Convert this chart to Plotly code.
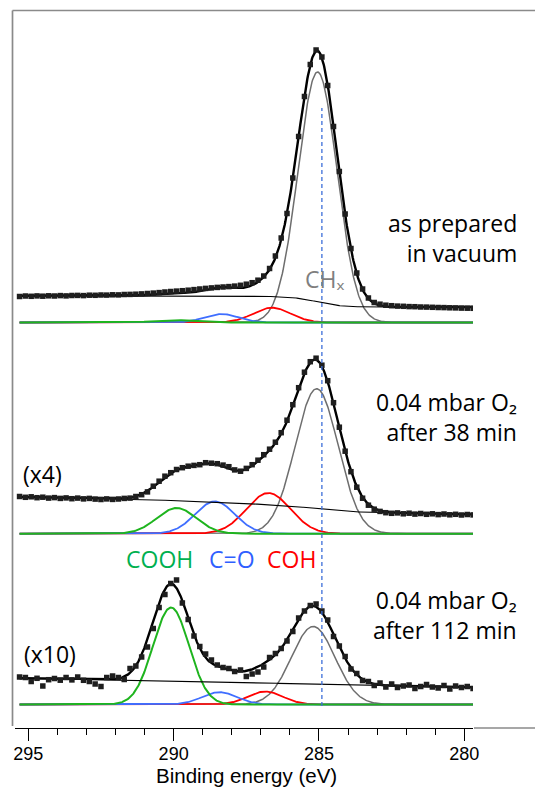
import numpy as np
import plotly.graph_objects as go

# ---------------- data ----------------
energy = [295.3, 295.1, 294.9, 294.7, 294.5, 294.3, 294.1, 293.9, 293.7, 293.5,
          293.3, 293.1, 292.9, 292.7, 292.5, 292.3, 292.1, 291.9, 291.7, 291.5,
          291.3, 291.1, 290.9, 290.7, 290.5, 290.3, 290.1, 289.9, 289.7, 289.5,
          289.3, 289.1, 288.9, 288.7, 288.5, 288.3, 288.1, 287.9, 287.7, 287.5,
          287.3, 287.1, 286.9, 286.7, 286.5, 286.3, 286.1, 285.9, 285.7, 285.5,
          285.3, 285.1, 284.9, 284.7, 284.5, 284.3, 284.1, 283.9, 283.7, 283.5,
          283.3, 283.1, 282.9, 282.7, 282.5, 282.3, 282.1, 281.9, 281.7, 281.5,
          281.3, 281.1, 280.9, 280.7, 280.5, 280.3, 280.1, 279.9, 279.7]

counts_vacuum = [26.0, 26.5, 26.2, 26.6, 26.3, 26.7, 26.5, 26.9, 26.6, 27.0,
                 27.1, 26.9, 27.3, 27.2, 27.5, 27.4, 27.7, 27.6, 28.0, 28.1,
                 28.3, 28.6, 29.0, 29.4, 29.9, 30.5, 31.0, 31.4, 31.8, 32.3,
                 32.9, 33.5, 34.1, 34.6, 35.1, 35.5, 35.9, 36.4, 37.2, 38.3,
                 39.8, 42.3, 46.5, 54.0, 66.5, 84.5, 109.0, 144.5, 186.0, 226.0,
                 258.0, 272.5, 265.5, 237.0, 196.0, 151.0, 108.5, 74.0, 49.5, 33.5,
                 24.5, 20.0, 18.3, 17.3, 16.8, 16.4, 16.2, 15.9, 15.8, 15.5,
                 15.4, 15.2, 15.0, 14.9, 14.7, 14.6, 14.4, 14.3, 14.2]

counts_38min = [37.2, 36.4, 36.9, 36.0, 36.5, 35.6, 36.1, 35.3, 35.8, 35.0,
                35.6, 34.8, 35.3, 34.6, 34.2, 34.8, 34.3, 34.7, 35.3, 35.6,
                37.2, 39.0, 41.8, 47.5, 52.5, 57.5, 61.0, 64.2, 66.0, 67.5,
                68.3, 69.0, 71.0, 70.5, 70.0, 68.6, 67.0, 63.8, 62.5, 65.3,
                69.0, 73.5, 79.0, 84.5, 91.5, 101.0, 113.5, 129.0, 146.0, 161.5,
                172.0, 175.5, 168.5, 153.0, 131.0, 106.5, 82.5, 62.0, 46.5, 35.5,
                28.5, 24.5, 22.3, 21.0, 20.4, 20.8, 19.9, 20.5, 19.6, 20.2,
                19.4, 19.9, 19.1, 19.7, 18.9, 19.4, 18.7, 19.2, 18.8]

counts_112min = [27.5, 27.0, 23.0, 26.2, 18.5, 24.8, 26.0, 24.3, 27.0, 24.6,
                 27.5, 24.2, 23.0, 20.5, 18.0, 27.0, 28.5, 27.0, 25.0, 36.0,
                 38.5, 47.5, 57.5, 76.0, 97.0, 110.0, 121.0, 124.5, 101.5, 85.0,
                 68.5, 58.0, 50.5, 44.5, 39.5, 37.0, 36.0, 33.0, 34.5, 28.0,
                 30.5, 32.5, 37.5, 47.0, 51.0, 56.0, 63.5, 73.0, 86.5, 93.5,
                 99.0, 100.5, 93.5, 84.5, 68.0, 58.5, 48.0, 35.5, 31.0, 24.0,
                 23.0, 19.0, 21.5, 17.5, 20.5, 17.0, 18.5, 19.5, 16.0, 18.0,
                 20.0, 17.5, 16.5, 19.0, 15.5, 18.5, 17.0, 18.0, 16.0]

# fitted components, order: CHx, COH, C=O, COOH  (centre eV, height, sigma eV)
component_names = ["CHx", "COH", "C=O", "COOH"]
centers_vacuum = [285.05, 286.62, 288.36, 290.00]
heights_vacuum = [250.5, 14.8, 8.5, 2.5]
widths_vacuum = [0.67, 0.64, 0.58, 0.65]

centers_38min = [285.08, 286.74, 288.58, 289.90]
heights_38min = [145.0, 40.7, 32.3, 25.7]
widths_38min = [0.74, 0.76, 0.68, 0.68]

centers_112min = [285.20, 286.85, 288.42, 290.09]
heights_112min = [78.0, 13.0, 12.3, 97.0]
widths_112min = [0.75, 0.60, 0.60, 0.62]

# Shirley-type background: [level at low-BE end, linear slope per eV, step height]
background_vacuum = [15.5, 0.0, 11.3]
background_38min = [19.3, 0.6, 8.0]
background_112min = [17.3, 0.5, 1.2]

spectrum_offsets = [405.5, 194.3, 23.5]
reference_energy = 284.9

tick_values = [295, 290, 285, 280]
tick_labels = ["295", "290", "285", "280"]
axis_title = "Binding energy (eV)"

# ---------------- style ----------------
comp_colors = ["#6e6e6e", "#ff0000", "#3f6eff", "#1eb41e"]
comp_widths = [1.5, 1.8, 1.8, 2.0]
TEXT_FONT = "Open Sans, Noto Sans, DejaVu Sans"

W, H = 535, 789
ML, MR, MT, MB = 15, 62, 10, 61
PW, PH = W - ML - MR, H - MT - MB


def px(x):
    return (x - ML) / PW


def py(y):
    return (H - MB - y) / PH


def gauss(e, c, h, s):
    return h * np.exp(-(e - c) ** 2 / (2 * s * s))


def shirley(e, total, level, slope, step):
    order = np.argsort(e)
    es, ts = e[order], total[order]
    cum = np.concatenate([[0.0], np.cumsum(0.5 * (ts[1:] + ts[:-1]) * np.diff(es))])
    frac = cum / cum[-1]
    bs = level + slope * (es - es[0]) + step * frac
    out = np.empty_like(bs)
    out[order] = bs
    return out


e_fit = np.linspace(max(energy), min(energy), 781)

fig = go.Figure()

spectra = [
    (counts_vacuum, centers_vacuum, heights_vacuum, widths_vacuum, background_vacuum),
    (counts_38min, centers_38min, heights_38min, widths_38min, background_38min),
    (counts_112min, centers_112min, heights_112min, widths_112min, background_112min),
]

for (counts, cen, hei, wid, bgp), off in zip(spectra, spectrum_offsets):
    comps = [gauss(e_fit, c, h, s) for c, h, s in zip(cen, hei, wid)]
    total = np.sum(comps, axis=0)
    bg = shirley(e_fit, total, *bgp)
    envelope = bg + total
    for name, comp, col, lw in zip(component_names, comps, comp_colors, comp_widths):
        fig.add_trace(go.Scatter(x=e_fit, y=comp + off, mode="lines", name=name,
                                 line=dict(color=col, width=lw), hoverinfo="skip"))
    fig.add_trace(go.Scatter(x=e_fit, y=bg + off, mode="lines", name="background",
                             line=dict(color="#000000", width=1.1), hoverinfo="skip"))
    fig.add_trace(go.Scatter(x=e_fit, y=envelope + off, mode="lines", name="fit",
                             line=dict(color="#000000", width=2.4), hoverinfo="skip"))
    fig.add_trace(go.Scatter(x=energy, y=np.array(counts) + off, mode="markers", name="data",
                             marker=dict(symbol="square", size=5.5, color="#1e1e1e",
                                         line=dict(width=0))))

shapes = [
    # dashed reference line
    dict(type="line", xref="x", yref="y", x0=reference_energy, x1=reference_energy,
         y0=22, y1=620, line=dict(color="#3d6fd9", width=1.3, dash="4px,3px")),
    # frame (grey) outside the axis
    dict(type="line", xref="paper", yref="paper", x0=px(12.5), x1=px(12.5),
         y0=py(726), y1=py(10.5), line=dict(color="#8a8a8a", width=1.7)),
    dict(type="line", xref="paper", yref="paper", x0=px(12.5), x1=px(536),
         y0=py(10.5), y1=py(10.5), line=dict(color="#8a8a8a", width=1.7)),
    dict(type="line", xref="paper", yref="paper", x0=px(474), x1=px(536),
         y0=py(728), y1=py(728), line=dict(color="#8a8a8a", width=1.5)),
]

annos = []


def label(text, x, y, anchor, color="#000000", size=23, align="left",
          family=TEXT_FONT, pad=1):
    annos.append(dict(text=text, xref="paper", yref="paper", x=px(x), y=py(y),
                      xanchor=anchor, yanchor="middle", showarrow=False, align=align,
                      borderpad=pad,
                      font=dict(family=family, size=size, color=color)))


label("as prepared<br>in vacuum", 519, 238.5, "right", align="right")
label("0.04 mbar O\u2082<br>after 38 min", 519, 417, "right", align="right")
label("0.04 mbar O\u2082<br>after 112 min", 519, 615, "right", align="right")
label("(x4)", 21, 474, "left")
label("(x10)", 22, 654, "left")
label("CH\u2093", 302.5, 278.5, "left", color="#7f7f7f")
label("COOH", 123.5, 558.5, "left", color="#00b050")
label("C=O", 206.5, 558.5, "left", color="#2f5fff")
label("COH", 265, 558.5, "left", color="#ff0000")
# x-axis title
label(axis_title, 247, 775.5, "center", size=20.5, family="Liberation Sans",
      align="center", pad=0)

fig.update_layout(
    width=W, height=H,
    margin=dict(l=ML, r=MR, t=MT, b=MB, pad=0, autoexpand=False),
    paper_bgcolor="white", plot_bgcolor="white",
    showlegend=False,
    shapes=shapes, annotations=annos,
    xaxis=dict(range=[295.457, 279.702], showline=True, linecolor="black", linewidth=1,
               automargin=False,
               ticks="outside", ticklen=12, tickwidth=1, tickcolor="black",
               tickvals=tick_values, ticktext=tick_labels, ticklabelstandoff=-3,
               minor=dict(dtick=1, ticks="outside", ticklen=6, tickwidth=1,
                          tickcolor="black", showgrid=False),
               showgrid=False, zeroline=False,
               tickfont=dict(family="Liberation Sans", size=18, color="black")),
    yaxis=dict(visible=False, range=[0, PH], fixedrange=True, automargin=False),
)

fig.write_html("out.html")
